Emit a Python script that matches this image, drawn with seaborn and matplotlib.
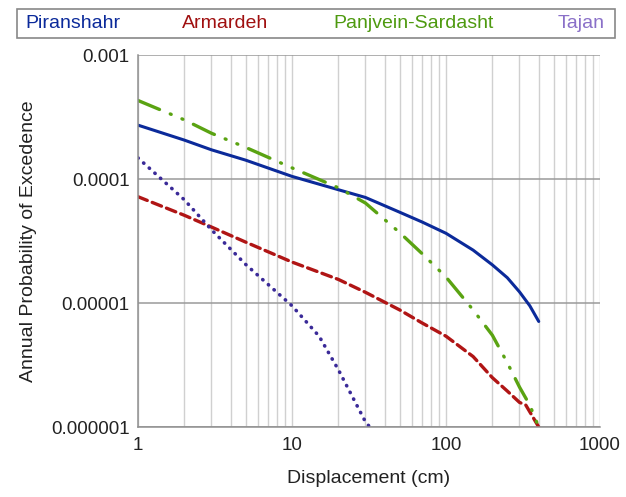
import seaborn as sns
import matplotlib.pyplot as plt
from matplotlib.patches import Rectangle
from matplotlib.ticker import FixedLocator, LogLocator, NullFormatter
import pandas as pd

# values (displacement in cm, annual probability)
piran_x = [1, 2, 3, 5, 10, 20, 30, 50, 70, 100, 150, 200, 250, 300, 350, 400]
piran_y = [2.72e-4, 2.06e-4, 1.72e-4, 1.42e-4, 1.05e-4, 8.2e-5, 7.1e-5, 5.4e-5,
           4.5e-5, 3.65e-5, 2.67e-5, 2.03e-5, 1.6e-5, 1.23e-5, 9.5e-6, 7.1e-6]

arm_x = [1, 2, 3, 5, 10, 20, 30, 50, 70, 100, 150, 200, 250, 300, 330, 360, 400]
arm_y = [7.2e-5, 5.1e-5, 4.1e-5, 3.1e-5, 2.14e-5, 1.55e-5, 1.22e-5, 8.8e-6,
         6.9e-6, 5.4e-6, 3.7e-6, 2.5e-6, 1.95e-6, 1.58e-6, 1.5e-6, 1.25e-6, 1.0e-6]

panj_x = [1, 2, 3, 5, 10, 20, 30, 50, 70, 100, 150, 200, 250, 300, 350, 400]
panj_y = [4.3e-4, 3.0e-4, 2.34e-4, 1.8e-4, 1.23e-4, 8.5e-5, 6.4e-5, 3.7e-5,
          2.5e-5, 1.62e-5, 8.8e-6, 5.5e-6, 3.3e-6, 2.1e-6, 1.5e-6, 1.0e-6]

tajan_x = [1, 2, 3, 5, 10, 15, 20, 30, 32]
tajan_y = [1.48e-4, 6.8e-5, 3.9e-5, 2.05e-5, 9.5e-6, 5.4e-6, 2.9e-6, 1.1e-6, 1.0e-6]

series = [
    ("Piranshahr", piran_x, piran_y, "#0b2a9a", "#0b2a9a", "-", 2.2),
    ("Armardeh", arm_x, arm_y, "#b01515", "#a01010", (0, (3, 1.6)), 2.4),
    ("Panjvein-Sardasht", panj_x, panj_y, "#5aa312", "#4e9a10", (0, (7, 3.5, 0.3, 3.5, 0.3, 3.5)), 2.4),
    ("Tajan", tajan_x, tajan_y, "#3a2a98", "#8a70c8", (0, (0.1, 2.0)), 2.6),
]

sns.set_theme(style="white")
plt.rcParams["font.family"] = ["Liberation Sans", "DejaVu Sans"]

fig = plt.figure(figsize=(6.26, 4.97), dpi=100)
ax = fig.add_axes([0.2204, 0.1408, 0.7381, 0.7485])

for name, xs, ys, lc, tc, ls, lw in series:
    df = pd.DataFrame({"x": xs, "y": ys})
    sns.lineplot(data=df, x="x", y="y", ax=ax, color=lc, linestyle=ls,
                 linewidth=lw, errorbar=None, dash_capstyle="round")

ax.set_xscale("log")
ax.set_yscale("log")
ax.set_xlim(1, 1000)
ax.set_ylim(1e-6, 1e-3)

ax.xaxis.set_major_locator(FixedLocator([1, 10, 100, 1000]))
ax.set_xticklabels(["1", "10", "100", "1000"])
ax.xaxis.set_minor_locator(LogLocator(base=10, subs=range(2, 10)))
ax.xaxis.set_minor_formatter(NullFormatter())
ax.yaxis.set_major_locator(FixedLocator([1e-6, 1e-5, 1e-4, 1e-3]))
ax.set_yticklabels(["0.000001", "0.00001", "0.0001", "0.001"])
ax.yaxis.set_minor_locator(FixedLocator([]))

ax.grid(True, which="major", axis="y", color="#9a9a9a", linewidth=1.1)
ax.grid(True, which="both", axis="x", color="#d0d0d0", linewidth=1.0)
ax.set_axisbelow(True)

for s in ["top", "right"]:
    ax.spines[s].set_visible(False)
for s in ["left", "bottom"]:
    ax.spines[s].set_color("#909090")
    ax.spines[s].set_linewidth(1.1)

ax.tick_params(axis="both", which="major", length=5, width=1, color="#909090",
               labelsize=13.5, labelcolor="#222222", direction="out")
ax.tick_params(axis="x", which="minor", length=0)
ax.tick_params(axis="x", which="major", pad=2)
ax.tick_params(axis="y", which="major", pad=1)

ax.set_xlabel("Displacement (cm)", fontsize=14, color="#222222", labelpad=12)
ax.set_ylabel("Annual Probability of Excedence", fontsize=14, color="#222222", labelpad=10)

# legend strip on top
fig.patches.append(Rectangle((17 / 626, 1 - 38 / 497), 598 / 626, 29 / 497,
                             transform=fig.transFigure, facecolor="white",
                             edgecolor="#888888", linewidth=1.2))
label_x = [25, 182, 333, 558]
for (name, xs, ys, lc, tc, ls, lw), px in zip(series, label_x):
    fig.text(px / 626, 1 - 24 / 497, name, color=tc, fontsize=14,
             ha="left", va="center")

fig.savefig("out.png", dpi=100)
